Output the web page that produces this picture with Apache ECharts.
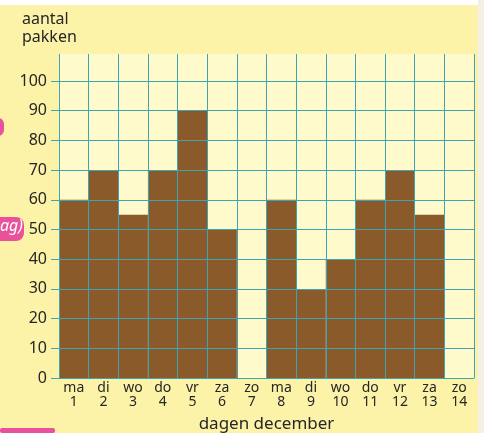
<!DOCTYPE html>
<html><head><meta charset="utf-8">
<script src="https://cdn.jsdelivr.net/npm/echarts@6/dist/echarts.min.js"></script>
<style>html,body{margin:0;padding:0;background:#fcf2a8;}#c{width:484px;height:433px;}</style>
</head><body><div id="c"></div>
<script>
const dayNames = ['ma','di','wo','do','vr','za','zo','ma','di','wo','do','vr','za','zo'];
const dayNumbers = ['1','2','3','4','5','6','7','8','9','10','11','12','13','14'];
const packets = [60,70,55,70,90,50,0,60,30,40,60,70,55,0];
const yTicks = [0,10,20,30,40,50,60,70,80,90,100];

const categories = dayNames.map((d,i)=>d+'\n'+dayNumbers[i]);
const lineColor = '#3fa3b3';
const textColor = '#262626';
const font = 'Noto Sans';
const chart = echarts.init(document.getElementById('c'));
chart.setOption({
  backgroundColor: '#fcf2a8',
  animation: false,
  textStyle: {fontFamily: font},
  graphic: [
    {type:'rect', shape:{x:0,y:0,width:484,height:5}, style:{fill:'#ffffff'}, z:0},
    {type:'rect', shape:{x:478,y:0,width:6,height:433}, style:{fill:'#f4f0e6'}, z:0},
    {type:'rect', shape:{x:59,y:54,width:415,height:324}, style:{fill:'#fefacc'}, z:0},
    {type:'rect', shape:{x:-10,y:217,width:34,height:24,r:8}, style:{fill:'#e9529b'}, z:5},
    {type:'text', left:0, top:218, style:{text:'ag)', fill:'#ffffff', font:'italic 16px "Noto Sans"'}, z:6},
    {type:'rect', shape:{x:-8,y:118,width:12,height:18,r:6}, style:{fill:'#e9529b'}, z:5},
    {type:'rect', shape:{x:0,y:428,width:55,height:5,r:2}, style:{fill:'#e9529b'}, z:5},
    {type:'text', left:22, top:10, style:{text:'aantal\npakken', fill:textColor, font:'16px "Noto Sans"', lineHeight:18}, z:6}
  ],
  grid: [
    {left:59, right:10, top:81, bottom:55, outerBoundsMode:'none', containLabel:false},
    {left:59, right:10, top:54, height:27, outerBoundsMode:'none', containLabel:false}
  ],
  xAxis: [
    {type:'category', gridIndex:0, data:categories, z:3,
     axisLine:{show:true, lineStyle:{color:lineColor, width:1}},
     axisTick:{show:false},
     splitLine:{show:true, interval:0, lineStyle:{color:lineColor, width:1}},
     axisLabel:{interval:0, color:textColor, fontSize:14, lineHeight:14, margin:3, fontFamily:font},
     name:'dagen december', nameLocation:'middle', nameGap:38,
     nameTextStyle:{color:textColor, fontSize:17, fontFamily:font}},
    {type:'category', gridIndex:1, data:categories, z:3,
     axisLine:{show:false}, axisTick:{show:false}, axisLabel:{show:false},
     splitLine:{show:true, interval:0, lineStyle:{color:lineColor, width:1}}}
  ],
  yAxis: [
    {type:'value', gridIndex:0, min:0, max:100, interval:10, z:3,
     axisLine:{show:true, lineStyle:{color:lineColor, width:1}},
     axisTick:{show:true, length:8, lineStyle:{color:lineColor}},
     splitLine:{show:true, lineStyle:{color:lineColor, width:1}},
     axisLabel:{color:textColor, fontSize:16, margin:12, fontFamily:font}},
    {type:'value', gridIndex:1, min:0, max:1, show:false}
  ],
  series: [
    {type:'bar', xAxisIndex:0, yAxisIndex:0, data:packets, barCategoryGap:'0%',
     itemStyle:{color:'#8b5a2a'}, z:2}
  ]
});
</script></body></html>
